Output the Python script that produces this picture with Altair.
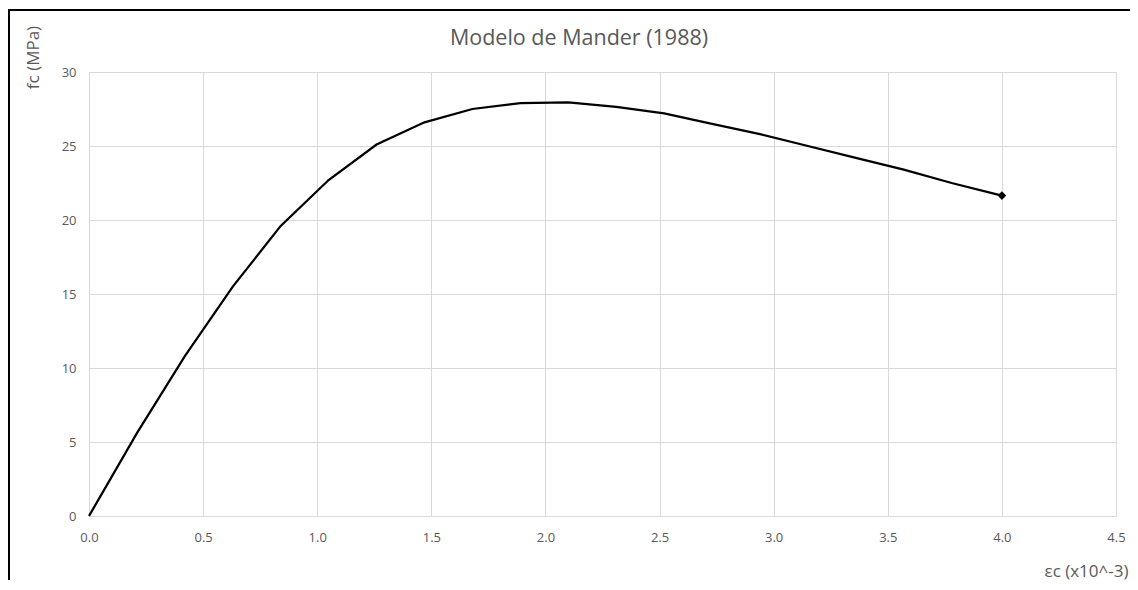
import altair as alt
import pandas as pd

# strain (x10^-3) and stress (MPa)
eps = [0.0, 0.21, 0.42, 0.63, 0.84, 1.05, 1.26, 1.47, 1.68, 1.89, 2.10,
       2.31, 2.52, 2.73, 2.94, 3.15, 3.36, 3.57, 3.78, 4.00]
fc = [0.0, 5.6, 10.8, 15.5, 19.6, 22.7, 25.1, 26.6, 27.5, 27.9, 27.95,
      27.65, 27.2, 26.5, 25.8, 25.0, 24.2, 23.4, 22.5, 21.65]

x_ticks = [0.0, 0.5, 1.0, 1.5, 2.0, 2.5, 3.0, 3.5, 4.0, 4.5]
y_ticks = [0, 5, 10, 15, 20, 25, 30]

title_text = "Modelo de Mander (1988)"
x_title = "εc (x10^-3)"
y_title = "fc (MPa)"

df = pd.DataFrame({"eps": eps, "fc": fc})

W, H = 1027, 444
PAD_L, PAD_T, PAD_R, PAD_B = 81, 64, 14, 64
FONT = "Open Sans"
GREY = "#595959"

x_enc = alt.X("eps:Q", scale=alt.Scale(domain=[0, 4.5], nice=False, zero=False),
              axis=alt.Axis(values=x_ticks, format=".1f", title=x_title,
                            titleX=W + PAD_R - 2, titleY=60, titleAlign="right",
                            titleBaseline="alphabetic", titleAnchor="end",
                            labelFlush=False))
y_enc = alt.Y("fc:Q", scale=alt.Scale(domain=[0, 30], nice=False),
              axis=alt.Axis(values=y_ticks, format="d", title=y_title,
                            titleX=-56, titleY=-15, titleAngle=-90,
                            titleAlign="center", titleBaseline="middle",
                            labelFlush=False))

line = alt.Chart(df).mark_line(color="black", strokeWidth=2.25).encode(x=x_enc, y=y_enc)

last = alt.Chart(df).transform_filter(alt.datum.eps >= 4.0).mark_point(
    shape="diamond", filled=True, color="black", size=75, opacity=1
).encode(x="eps:Q", y="fc:Q")

single = alt.Data(values=[{"t": title_text}])
title_mark = alt.Chart(single).mark_text(
    font=FONT, fontSize=21.5, color=GREY, align="center", baseline="alphabetic"
).encode(x=alt.value(490), y=alt.value(-27), text="t:N")

left_border = alt.Chart(single).mark_rule(color="black", strokeWidth=2).encode(
    x=alt.value(-80), y=alt.value(-63), y2=alt.value(H + PAD_B))
top_border = alt.Chart(single).mark_rule(color="black", strokeWidth=2).encode(
    x=alt.value(-81), x2=alt.value(W + PAD_R), y=alt.value(-62))

chart = alt.layer(line, last, title_mark, left_border, top_border).properties(
    width=W, height=H,
    autosize=alt.AutoSizeParams(type="none"),
    padding={"left": PAD_L, "top": PAD_T, "right": PAD_R, "bottom": PAD_B},
    background="white",
).configure_view(stroke=None).configure_axis(
    grid=True, gridColor="#d9d9d9", gridWidth=1, domain=False, ticks=False,
    labelFont=FONT, labelFontSize=13, labelColor=GREY,
    titleFont=FONT, titleFontSize=17, titleColor=GREY, titleFontWeight="normal",
).configure_axisX(labelPadding=15).configure_axisY(labelPadding=13)

chart.save("out.html", embed_options={"renderer": "svg", "actions": False})
